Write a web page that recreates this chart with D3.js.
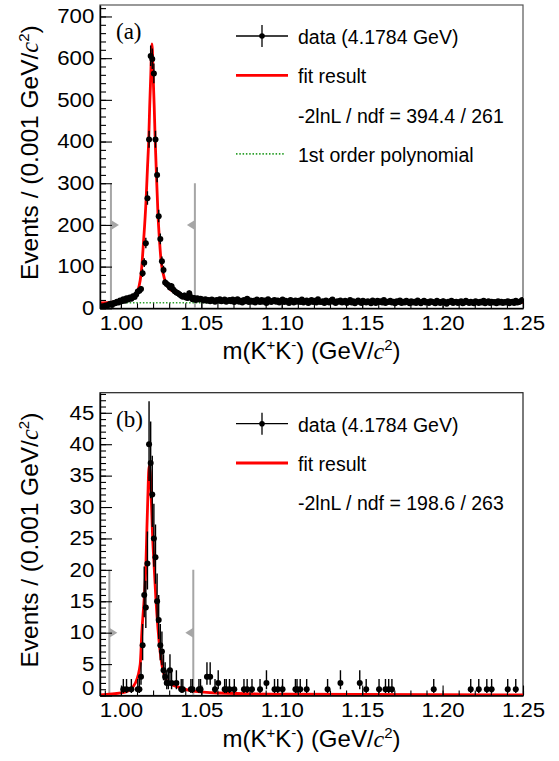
<!DOCTYPE html>
<html>
<head>
<meta charset="utf-8">
<script src="https://cdn.jsdelivr.net/npm/d3@7"></script>
<style>
  body { margin: 0; background: #fff; }
  svg text { fill: #000; }
</style>
</head>
<body>
<div id="wrapper"></div>
<script>
// binning of m(K+K-): 1 MeV bins starting at the KK threshold
const BIN_START = 0.987;
const BIN_WIDTH = 0.001;
const X_MAX = 1.25;

// (a) events per bin
const countsA = [
  3, 5, 4, 7, 6, 9, 11, 8, 13, 12, 16, 14, 19,
  17, 22, 18, 24, 21, 26, 23, 29, 27, 33, 40, 42, 46,
  84, 109, 156, 264, 405, 605, 598, 563, 405, 320, 221, 166, 113, 92,
  62, 58, 55, 50, 53, 45, 41, 38, 36, 33, 30, 28, 31, 26, 25, 36, 27,
  22, 25, 20, 24, 21, 23, 21, 19, 22, 18, 20, 17, 21, 19, 16, 20, 18, 22, 17, 19, 21, 16, 18, 20,
  17, 21, 15, 19, 22, 16, 18, 14, 20, 17, 23, 15, 19, 16,
  18, 14, 21, 17, 15, 20, 16, 19, 13, 22, 17, 15, 18, 20,
  16, 19, 14, 17, 21, 15, 18, 16, 13, 20, 17, 14, 19, 16,
  18, 15, 21, 14, 17, 19, 13, 16, 20, 15, 18, 14, 22, 16,
  15, 17, 13, 19, 16, 14, 18, 21, 15, 13, 17, 16, 19, 14,
  16, 18, 13, 15, 20, 14, 17, 12, 16, 19, 15, 13, 18, 16,
  14, 17, 15, 12, 19, 16, 13, 18, 15, 17, 14, 20, 13, 16,
  15, 18, 14, 16, 12, 17, 15, 19, 13, 16, 14, 18, 15, 12,
  17, 14, 16, 13, 19, 15, 12, 16, 18, 14, 15, 13, 17, 16,
  14, 12, 18, 15, 13, 16, 17, 14, 11, 16, 15, 18, 13, 15,
  16, 13, 15, 17, 12, 14, 18, 15, 13, 16, 14, 12, 17, 15,
  13, 16, 14, 18, 12, 15, 17, 13, 16, 14, 15, 12, 17, 14,
  16, 13, 15, 14, 17, 12, 15, 16, 13, 18, 14, 15, 17, 20
];

// (b) non-empty bins only (bin index, events)
const binsB = [
  14, 16, 19, 23, 24, 25, 26, 27, 28, 29, 30, 31, 32, 33, 34, 35, 36, 37, 38, 39,
  40, 41, 42, 43, 44, 47, 50, 51, 56, 57, 61, 62, 66, 68, 71, 73, 77, 78, 80, 83,
  89, 91, 94, 99, 103, 108, 110, 113, 121, 122, 124, 128, 141, 149, 161, 165, 173, 177, 179, 181,
  207, 230, 235, 240, 243, 253, 258
];
const countsB = [
  1, 1, 1, 1, 1, 3, 8, 16, 14, 21, 40, 37, 32, 25, 22, 15, 12, 8, 7, 4,
  3, 2, 2, 4, 2, 2, 1, 1, 1, 1, 1, 1, 3, 3, 1, 2, 1, 1, 1, 1,
  1, 1, 1, 1, 2, 1, 1, 1, 1, 1, 1, 1, 1, 2, 2, 1, 1, 1, 1, 1,
  1, 1, 1, 1, 1, 1, 1
];

// fit curves
const fitMassA = [0.987, 0.995, 1.000, 1.005, 1.0097, 1.0126, 1.0140, 1.0157, 1.0165, 1.0173, 1.0179,
  1.0186, 1.0190, 1.0193, 1.0196, 1.0200, 1.0207, 1.0213, 1.0221, 1.0231, 1.0240, 1.0250, 1.0262,
  1.0279, 1.0300, 1.0341, 1.0424, 1.05, 1.10, 1.15, 1.20, 1.25];
const fitYieldA = [13, 15, 17, 22, 36, 84, 156, 264, 335, 405, 485,
  563, 615, 634, 618, 563, 485, 405, 320, 221, 163, 113, 85,
  61, 48, 37, 25, 20, 17, 15.5, 14.5, 13.5];
const polyMassA = [0.987, 1.25];
const polyYieldA = [13.5, 12.5];

const fitMassB = [0.987, 1.000, 1.005, 1.009, 1.012, 1.013, 1.0145, 1.0155, 1.0161, 1.0167, 1.0175,
  1.0182, 1.0189, 1.0196, 1.0207, 1.0217, 1.0231, 1.0254, 1.0289, 1.0362, 1.045, 1.06, 1.10, 1.25];
const fitYieldB = [0.1, 0.4, 0.8, 2.0, 5, 10, 15.6, 20.4, 26, 31.2, 36.5,
  35.5, 31.2, 26, 20.4, 15.6, 10.5, 5, 2.2, 1.3, 0.7, 0.4, 0.2, 0.1];

// signal-window markers
const cutMassA = [0.9938, 1.0460];
const cutMassB = [0.9928, 1.0450];

// ticks
const xTicks = [1.00, 1.05, 1.10, 1.15, 1.20, 1.25];
const yTicksA = [0, 100, 200, 300, 400, 500, 600, 700];
const yTicksB = [0, 5, 10, 15, 20, 25, 30, 35, 40, 45];

const legendA = ["data (4.1784 GeV)", "fit result", "-2lnL / ndf = 394.4 / 261", "1st order polynomial"];
const legendB = ["data (4.1784 GeV)", "fit result", "-2lnL / ndf = 198.6 / 263"];

const SANS = '"Liberation Sans", Arial, Helvetica, sans-serif';
const SERIF = '"Liberation Serif", "Times New Roman", serif';

const width = 559, height = 761;
const margin = { left: 100, right: 36 };
const plotRight = width - margin.right;

const wrapper = d3.select("#wrapper").append("svg")
  .attr("width", width)
  .attr("height", height)
  .style("font-family", SANS);

const binCenter = k => BIN_START + (k + 0.5) * BIN_WIDTH;
// approximate 68% Poisson interval
const errLow = n => n + 0.5 - Math.sqrt(n + 0.25);
const errHigh = n => n + 0.5 + Math.sqrt(n + 0.25);

// "c" in italic serif followed by a superscript 2
function appendGevC2(text, supSize, supShift) {
  text.append("tspan").style("font-family", SERIF).style("font-style", "italic").text("c");
  text.append("tspan").attr("dy", -supShift).attr("font-size", supSize).text("2");
  text.append("tspan").attr("dy", supShift).text(")");
}

function drawPanel(p) {
  const xScale = d3.scaleLinear().domain([BIN_START, X_MAX]).range([margin.left, plotRight]);
  const yScale = d3.scaleLinear().domain([0, p.yMax]).range([p.bottom, p.top]);
  const g = wrapper.append("g");

  g.append("defs").append("clipPath").attr("id", "clip-" + p.id)
    .append("rect")
      .attr("x", margin.left).attr("y", p.top)
      .attr("width", plotRight - margin.left).attr("height", p.bottom - p.top);

  // frame
  g.append("rect")
    .attr("x", margin.left).attr("y", p.top)
    .attr("width", plotRight - margin.left).attr("height", p.bottom - p.top)
    .attr("fill", "none").attr("stroke", p.frameColor).attr("stroke-width", 1.2);

  const plot = g.append("g").attr("clip-path", `url(#clip-${p.id})`);

  // signal-window lines and arrows
  p.cuts.forEach((m, i) => {
    const x = xScale(m);
    plot.append("line")
      .attr("x1", x).attr("x2", x)
      .attr("y1", yScale(p.cutTop)).attr("y2", yScale(0))
      .attr("stroke", "#a6a6a6").attr("stroke-width", 2);
    const ya = yScale(p.cutArrow);
    const dir = i === 0 ? 1 : -1;
    plot.append("path")
      .attr("d", `M${x},${ya - 5}L${x + dir * 8},${ya}L${x},${ya + 5}Z`)
      .attr("fill", "#a6a6a6");
  });

  // polynomial background
  if (p.polyMass) {
    plot.append("path")
      .attr("d", d3.line().x(d => xScale(d[0])).y(d => yScale(d[1]))(d3.zip(p.polyMass, p.polyYield)))
      .attr("fill", "none").attr("stroke", "#2ca02c").attr("stroke-width", 1.6)
      .attr("stroke-dasharray", "1.5,1.8");
  }

  // fit
  plot.append("path")
    .attr("d", d3.line().curve(d3.curveMonotoneX)
      .x(d => xScale(d[0])).y(d => yScale(d[1]))(d3.zip(p.fitMass, p.fitYield)))
    .attr("fill", "none").attr("stroke", "#ff0000").attr("stroke-width", 2.8);

  // data points with errors
  const pts = plot.append("g").selectAll("g").data(p.data).join("g");
  pts.append("line")
    .attr("x1", d => xScale(d.m)).attr("x2", d => xScale(d.m))
    .attr("y1", d => yScale(errLow(d.n))).attr("y2", d => yScale(errHigh(d.n)))
    .attr("stroke", "#000").attr("stroke-width", 1.4);
  pts.append("line")
    .attr("x1", d => xScale(d.m - BIN_WIDTH / 2)).attr("x2", d => xScale(d.m + BIN_WIDTH / 2))
    .attr("y1", d => yScale(d.n)).attr("y2", d => yScale(d.n))
    .attr("stroke", "#000").attr("stroke-width", 1.4);
  pts.append("circle")
    .attr("cx", d => xScale(d.m)).attr("cy", d => yScale(d.n))
    .attr("r", 3).attr("fill", "#000");

  // axes (ticks point inward, ROOT style)
  const xMinor = d3.range(99, 126).map(v => v / 100);
  g.append("g")
    .attr("transform", `translate(0,${p.bottom})`)
    .call(d3.axisBottom(xScale).tickValues(xMinor).tickSizeInner(-5).tickSizeOuter(0).tickFormat(""))
    .call(a => a.select(".domain").remove());
  const xAxis = g.append("g")
    .attr("transform", `translate(0,${p.bottom})`)
    .call(d3.axisBottom(xScale).tickValues(xTicks).tickSizeInner(-10).tickSizeOuter(0)
      .tickPadding(8).tickFormat(d3.format(".2f")));
  xAxis.select(".domain").attr("stroke-width", 1.4);

  const yMinor = d3.range(0, p.yMax, p.yMinorStep);
  g.append("g")
    .attr("transform", `translate(${margin.left},0)`)
    .call(d3.axisLeft(yScale).tickValues(yMinor).tickSizeInner(-6).tickSizeOuter(0).tickFormat(""))
    .call(a => a.select(".domain").remove());
  const yAxis = g.append("g")
    .attr("transform", `translate(${margin.left},0)`)
    .call(d3.axisLeft(yScale).tickValues(p.yTicks).tickSizeInner(-12).tickSizeOuter(0).tickPadding(5));
  yAxis.select(".domain").attr("stroke-width", 1.4);

  g.selectAll(".tick line").attr("stroke", "#000").attr("stroke-width", 1.1);
  g.selectAll(".tick text")
    .attr("font-size", 19.5)
    .style("font-family", SANS)
    .attr("transform", "scale(1.14,1)");
  if (p.zeroShift) {
    yAxis.selectAll(".tick").filter(d => d === 0).select("text")
      .attr("transform", `translate(0,${p.zeroShift}) scale(1.14,1)`);
  }

  // axis titles
  const xt = g.append("text")
    .attr("x", (margin.left + plotRight) / 2).attr("y", p.bottom + 51)
    .attr("text-anchor", "middle").attr("font-size", 24);
  xt.append("tspan").text("m(K");
  xt.append("tspan").attr("dy", -9).attr("font-size", 15).text("+");
  xt.append("tspan").attr("dy", 9).text("K");
  xt.append("tspan").attr("dy", -9).attr("font-size", 15).text("-");
  xt.append("tspan").attr("dy", 9).text(") (GeV/");
  appendGevC2(xt, 15, 9);

  const yt = g.append("text")
    .attr("transform", `translate(38,${(p.top + p.bottom) / 2 - 4}) rotate(-90)`)
    .attr("text-anchor", "middle").attr("font-size", 24.5);
  yt.append("tspan").text("Events / (0.001 GeV/");
  appendGevC2(yt, 15, 9);

  // panel label
  g.append("text")
    .attr("x", 116).attr("y", p.top + 34)
    .style("font-family", SERIF)
    .attr("font-size", 23)
    .text(p.label);

  // legend
  const lx0 = 236, lx1 = 288, tx = 298;
  p.legend.forEach((txt, i) => {
    const ry = p.top + 31 + 39.3 * i;
    if (i === 0) {
      g.append("line").attr("x1", lx0).attr("x2", lx1).attr("y1", ry).attr("y2", ry)
        .attr("stroke", "#000").attr("stroke-width", 1.3);
      g.append("line").attr("x1", 262).attr("x2", 262).attr("y1", ry - 11).attr("y2", ry + 11)
        .attr("stroke", "#000").attr("stroke-width", 1.3);
      g.append("circle").attr("cx", 262).attr("cy", ry).attr("r", 2.8).attr("fill", "#000");
    } else if (i === 1) {
      g.append("line").attr("x1", lx0).attr("x2", lx1).attr("y1", ry).attr("y2", ry)
        .attr("stroke", "#ff0000").attr("stroke-width", 2.8);
    } else if (i === 3) {
      g.append("line").attr("x1", lx0).attr("x2", lx1 - 3).attr("y1", ry).attr("y2", ry)
        .attr("stroke", "#2ca02c").attr("stroke-width", 1.6).attr("stroke-dasharray", "1.5,1.8");
    }
    g.append("text").attr("x", tx).attr("y", ry + 8)
      .attr("font-size", 19.5).text(txt);
  });
}

drawPanel({
  id: "a", label: "(a)", top: 5, bottom: 308.3, yMax: 727.5,
  yTicks: yTicksA, yMinorStep: 20, frameColor: "#555",
  data: countsA.map((n, k) => ({ m: binCenter(k), n })),
  fitMass: fitMassA, fitYield: fitYieldA,
  polyMass: polyMassA, polyYield: polyYieldA,
  cuts: cutMassA, cutTop: 300, cutArrow: 200,
  legend: legendA
});

drawPanel({
  id: "b", label: "(b)", top: 392.7, bottom: 695.5, yMax: 48.2,
  yTicks: yTicksB, yMinorStep: 1, frameColor: "#222", zeroShift: -7,
  data: binsB.map((k, i) => ({ m: binCenter(k), n: countsB[i] })),
  fitMass: fitMassB, fitYield: fitYieldB,
  cuts: cutMassB, cutTop: 20, cutArrow: 10,
  legend: legendB
});
</script>
</body>
</html>
